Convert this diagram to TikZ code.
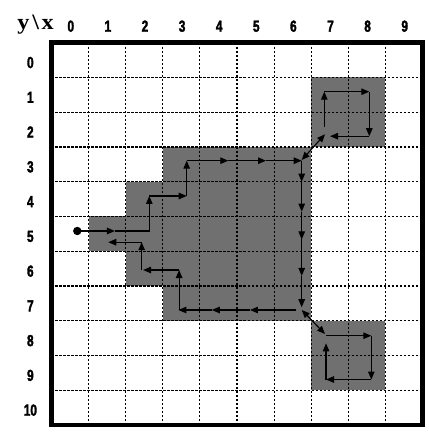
\documentclass[tikz,border=0pt]{standalone}
\usepackage{fontspec}
\usepackage{tikz}
\usetikzlibrary{arrows.meta}
\newfontfamily\numfont[FakeStretch=0.74,FakeBold=2]{Liberation Sans Bold}
\newfontfamily\headfont[FakeStretch=1.1]{Liberation Serif Bold}

\begin{document}
\begin{tikzpicture}[
    x=37.1pt,
    y=-34.76pt,
    gridline/.style={draw=black, line width=1.1pt, dash pattern=on 2.8pt off 1.2pt},
    frame/.style={draw=black, line width=4.5pt},
    block/.style={fill=black!56},
    flow/.style={line width=1.1pt, -{Triangle[length=8pt,width=6.5pt]}},
    link/.style={line width=1.1pt, {Triangle[length=8pt,width=6.5pt]}-{Triangle[length=8pt,width=6.5pt]}},
    axis/.style={font=\numfont\fontsize{16}{16}\selectfont, inner sep=0pt},
    head/.style={font=\headfont\fontsize{22}{22}\selectfont, inner sep=0pt}
  ]
    \useasboundingbox (-1.388,-1.228) rectangle (10.175,11.2);

    % shaded regions
    \foreach \x/\y in {7/1,8/1,7/2,8/2,1/5,2/4,2/5,2/6,7/8,8/8,7/9,8/9} {
      \fill[block] (\x,\y) rectangle ++(1,1);
    }
    \foreach \x in {3,...,6} {
      \foreach \y in {3,...,7} {\fill[block] (\x,\y) rectangle ++(1,1);}
    }

    % grid and frame
    \foreach \x in {1,...,9} {\draw[gridline] (\x,0) -- (\x,11);}
    \foreach \y in {1,...,10} {\draw[gridline] (0,\y) -- (10,\y);}
    \draw[frame] (0,0) rectangle (10,11);

    % labels
    \node[head, anchor=base] (corner) at (-0.43,-0.365) {y\kern3pt\textbackslash\kern2.5pt x};
    \foreach \c in {0,...,9} {
      \node[axis, anchor=base] (col\c) at (\c+0.52,-0.316) {\c};
    }
    \foreach \r in {0,...,10} {
      \node[axis, anchor=base] (row\r) at (-0.57,\r+0.73) {\r};
    }

    % outer trace
    \fill (0.695,5.417) circle (4.2pt);
    \draw[flow] (0.695,5.417) -- (1.71,5.417);
    \draw[flow] (1.71,5.417) -- (2.636,5.417) -- (2.636,4.41);
    \draw[flow] (2.636,4.41) -- (3.644,4.41);
    \draw[flow] (3.644,4.41) -- (3.644,3.395);
    \foreach \xa/\xb in {3.644/4.765,4.765/5.782,5.782/6.744} {
      \draw[flow] (\xa,3.395) -- (\xb,3.395);
    }
    \foreach \ya/\yb in {3.395/4.0,4.0/4.86,4.86/5.66,5.66/6.71,6.71/7.61} {
      \draw[flow] (6.744,\ya) -- (6.744,\yb);
    }

    % return trace
    \foreach \xa/\xb in {6.6/5.35,5.35/4.32,4.32/3.42} {
      \draw[flow] (\xa,7.69) -- (\xb,7.69);
    }
    \draw[flow] (3.44,7.69) -- (3.44,6.54);
    \draw[flow] (3.44,6.54) -- (2.47,6.54);
    \draw[flow] (2.43,6.54) -- (2.43,5.74);
    \draw[flow] (2.43,5.74) -- (1.53,5.74);

    % upper loop
    \draw[link] (6.744,3.375) -- (7.372,2.635);
    \draw[flow] (7.353,2.417) -- (7.353,1.41);
    \draw[flow] (7.353,1.41) -- (8.566,1.41);
    \draw[flow] (8.566,1.41) -- (8.566,2.69);
    \draw[flow] (8.566,2.69) -- (7.507,2.69);

    % lower loop
    \draw[link] (6.744,7.69) -- (7.372,8.38);
    \draw[flow] (7.40,8.43) -- (8.62,8.43);
    \draw[flow] (8.62,8.43) -- (8.62,9.69);
    \draw[flow] (8.62,9.69) -- (7.40,9.69);
    \draw[flow] (7.40,9.69) -- (7.40,8.65);
  \end{tikzpicture}
\end{document}
